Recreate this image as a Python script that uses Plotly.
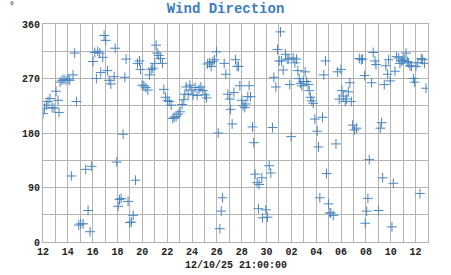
import pandas as pd
import plotly.graph_objects as go

start = pd.Timestamp("2025-11-12 00:00:00")
end = pd.Timestamp("2025-12-13 00:00:00")

# Fractional days after start, and wind direction in degrees
days = [
    0.00, 0.13, 0.27, 0.40, 0.56, 0.73, 0.89, 1.05, 1.21, 1.29, 1.37, 1.53, 1.69, 1.85,
    2.02, 2.15, 2.28, 2.42, 2.55, 2.69, 2.88, 3.04, 3.23, 3.44, 3.63, 3.79, 3.92, 4.03,
    4.17, 4.30, 4.41, 4.57, 4.65, 4.81, 4.92, 5.05, 5.19, 5.32, 5.46, 5.73, 5.81, 5.94,
    6.05, 6.16, 6.29, 6.45, 6.59, 6.69, 6.85, 6.99, 7.12, 7.26, 7.45, 7.61, 7.77,
    7.85, 7.98, 8.12, 8.28, 8.44, 8.57, 8.71, 8.84, 9.00, 9.11, 9.19, 9.32, 9.46, 9.62,
    9.73, 9.86, 10.02, 10.16, 10.32, 10.45, 10.56, 10.72, 10.88, 11.04, 11.20, 11.34,
    11.42, 11.53, 11.69, 11.82, 11.93, 12.09, 12.25, 12.41, 12.57, 12.71, 12.87, 13.06,
    13.17, 13.25, 13.41, 13.54, 13.68, 13.81, 13.97, 14.11, 14.24, 14.35, 14.45, 14.59,
    14.72, 14.88, 15.05, 15.10, 15.23, 15.37, 15.50,
    15.63, 15.74, 15.85, 16.01, 16.11, 16.25, 16.33, 16.49, 16.60, 16.71, 16.87, 16.97,
    17.08, 17.24, 17.40, 17.62, 17.35, 17.67, 17.94, 18.08, 18.21, 18.34, 18.48, 18.59,
    18.75, 18.88, 19.02, 19.12, 19.20, 19.34, 19.53, 19.66, 19.79, 19.87, 19.98, 20.14,
    20.28, 20.41, 20.52, 20.63, 20.73, 20.84, 20.95, 21.11, 21.22, 21.35, 21.43, 21.54,
    21.65, 21.76, 21.89, 22.08, 22.18, 22.29, 22.51, 22.61, 22.75, 22.83, 22.99, 23.10,
    23.18, 23.37, 23.59, 23.72, 23.85, 23.99, 24.07, 24.18, 24.34, 24.45, 24.58, 24.71,
    24.82, 24.93, 25.09, 25.25, 25.47, 25.63, 25.73, 25.90, 25.95, 26.06, 26.16, 26.27,
    26.46, 26.59, 26.73, 26.81, 27.02, 27.16, 27.27, 27.35, 27.48, 27.61, 27.75, 27.83,
    27.96, 28.10, 28.21, 28.34, 28.47, 28.64, 28.74, 28.85, 28.96, 29.09, 29.23, 29.33,
    29.44, 29.55, 29.66, 29.82, 29.92, 30.03, 30.17, 30.35, 30.46, 30.57, 30.73, 30.84,
]
direction = [
    212, 221, 226, 232, 237, 222, 221, 249, 234, 214, 264, 267, 269, 267,
    269, 267, 109, 276, 312, 232, 28, 30, 30, 120, 52, 17, 125, 298,
    313, 270, 315, 312, 280, 305, 341, 333, 283, 267, 261, 273, 320, 132,
    59, 70, 72, 178, 272, 302, 67, 32, 33, 44, 102, 295, 299,
    285, 259, 258, 255, 251, 276, 285, 287, 295, 325, 312, 308, 303, 295,
    252, 239, 234, 232, 226, 204, 206, 207, 211, 215, 227, 235,
    244, 256, 244, 259, 251, 243, 255, 242, 252, 256, 250, 243,
    238, 294, 296, 290, 298, 301, 314, 180, 22, 51, 73, 295,
    277, 244, 236, 219, 195, 247, 301,
    290, 290, 258, 234, 225, 222, 228, 240, 258, 240, 190, 164,
    112, 98, 95, 106, 55, 40, 53, 41, 126, 114, 189, 272,
    256, 318, 299, 347, 299, 284, 310, 302, 302, 260, 174, 304,
    296, 302, 283, 270, 262, 258, 265, 281, 265, 260, 250, 239,
    233, 229, 203, 183, 157, 73, 206, 276, 299, 113, 63, 48,
    48, 44, 162, 281, 236, 285, 250, 241, 232, 236, 248, 263,
    232, 193, 185, 188, 303, 301, 302, 275, 31, 51, 72, 136,
    263, 313, 299, 293, 52, 188, 197, 106, 260, 291, 277, 301,
    266, 25, 97, 282, 306, 304, 295, 299, 300, 302, 312, 298,
    296, 291, 290, 270, 264, 290, 296, 80, 303, 301, 295, 254,
]

y_tick_values = [0, 90, 180, 270, 360]
title_text = "Wind Direction"
x_title_text = "12/10/25 21:00:00"
unit_text = "°"

times = [start + pd.Timedelta(days=d) for d in days]

MONO = "Liberation Mono, Courier New, monospace"
GRID = "#b4b4b4"

fig = go.Figure()
fig.add_trace(go.Scatter(
    x=times, y=direction, mode="markers",
    marker=dict(symbol="cross-thin", size=7, line=dict(width=1, color="#4a86c0"),
                color="#4a86c0"),
    hoverinfo="x+y", showlegend=False,
))

fig.update_layout(
    width=451, height=275,
    margin=dict(l=43, r=23, t=24, b=33),
    paper_bgcolor="white", plot_bgcolor="white",
    title=dict(text=f"<b>{title_text}</b>", x=0.5, xanchor="center",
               y=1 - 8 / 275, yanchor="middle",
               font=dict(family=MONO, size=14, color="#3d7ebf")),
    xaxis=dict(
        type="date", range=[start, end],
        tick0=start, dtick=2 * 86400000, tickformat="%d",
        showgrid=True, gridcolor=GRID, gridwidth=1.2,
        minor=dict(dtick=86400000, tick0=start, showgrid=True, gridcolor=GRID, gridwidth=1.2),
        showline=True, linecolor=GRID, linewidth=1.2, mirror=True,
        ticks="", tickfont=dict(family=MONO, size=10, color="#222222", weight="bold"),
        zeroline=False,
    ),
    yaxis=dict(
        range=[0, 360], tickvals=y_tick_values,
        showgrid=True, gridcolor=GRID, gridwidth=1.2,
        minor=dict(dtick=45, tick0=0, showgrid=True, gridcolor=GRID, gridwidth=1.2),
        showline=True, linecolor=GRID, linewidth=1.2, mirror=True,
        ticks="", tickfont=dict(family=MONO, size=10, color="#222222", weight="bold"),
        zeroline=False,
    ),
    annotations=[
        dict(text=f"<b>{x_title_text}</b>", xref="paper", yref="paper",
             x=0.5, y=-(265 - 242) / 218, xanchor="center", yanchor="middle",
             showarrow=False, font=dict(family=MONO, size=10, color="#222222")),
        dict(text=unit_text, xref="paper", yref="paper",
             x=(12 - 43) / 385, y=1 + (24 - 7) / 218, xanchor="center", yanchor="middle",
             showarrow=False, font=dict(family=MONO, size=10, color="#222222")),
    ],
)

fig.write_html("out.html")
